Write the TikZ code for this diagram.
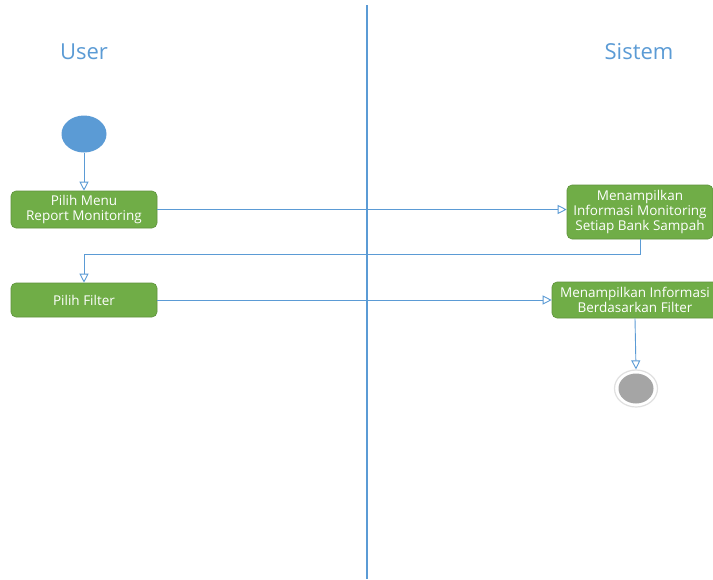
\documentclass[tikz,border=0pt]{standalone}
\usepackage{fontspec}
\setmainfont{Open Sans}
\usetikzlibrary{arrows.meta,shapes.geometric}
\definecolor{lblue}{HTML}{5B9BD5}
\definecolor{lgreen}{HTML}{70AD47}
\definecolor{lgray}{HTML}{A5A5A5}
\tikzset{
  act/.style={draw=lgreen!85!black, line width=0.6pt, fill=lgreen, rounded corners=5pt, text=white, align=center, font=\fontsize{13.5}{15}\selectfont, inner sep=0pt},
  flow/.style={draw=lblue, line width=0.9pt, -{Triangle[open, length=9pt, width=9pt, fill=white]}},
  lane/.style={text=lblue, font=\fontsize{22}{26}\selectfont}
}
\begin{document}
\begin{tikzpicture}[x=1pt, y=-1pt]
\useasboundingbox (0,0) rectangle (713,579);
\fill[white] (0,0) rectangle (713,579);
\draw[lblue, line width=2.6pt] (367,5) -- (367,579);
\node[lane] (user) at (84,52) {User};
\node[lane] (sistem) at (639,52) {Sistem};
\node[ellipse, fill=lblue, minimum width=45pt, minimum height=37pt, inner sep=0pt] (start) at (84,134) {};
\node[act, minimum width=146pt, minimum height=37pt] (b1) at (84,209.5) {Pilih Menu\\Report Monitoring};
\node[act, minimum width=146pt, minimum height=54pt] (b2) at (640,212) {Menampilkan\\Informasi Monitoring\\Setiap Bank Sampah};
\node[act, minimum width=146pt, minimum height=34pt] (b3) at (84,300) {Pilih Filter};
\node[act, minimum width=166pt, minimum height=36pt] (b4) at (635,300) {Menampilkan Informasi\\Berdasarkan Filter};
\node[ellipse, draw=black!12, line width=1.2pt, fill=white, minimum width=43pt, minimum height=37pt, inner sep=0pt] (end) at (636,388.5) {};
\node[ellipse, fill=lgray, minimum width=35pt, minimum height=30pt, inner sep=0pt] (endin) at (636,388.5) {};
\draw[flow] (start) -- (b1);
\draw[flow] (b1.east) -- (b1.east -| b2.west);
\coordinate (c1) at (b2.south |- 0,254);
\coordinate (c2) at (b3.north |- 0,254);
\draw[flow] (b2.south) -- (c1) -- (c2) -- (b3.north);
\draw[flow] (b3.east) -- (b3.east -| b4.west);
\draw[flow] (b4.south) -- (end.north);
\end{tikzpicture}
\end{document}
